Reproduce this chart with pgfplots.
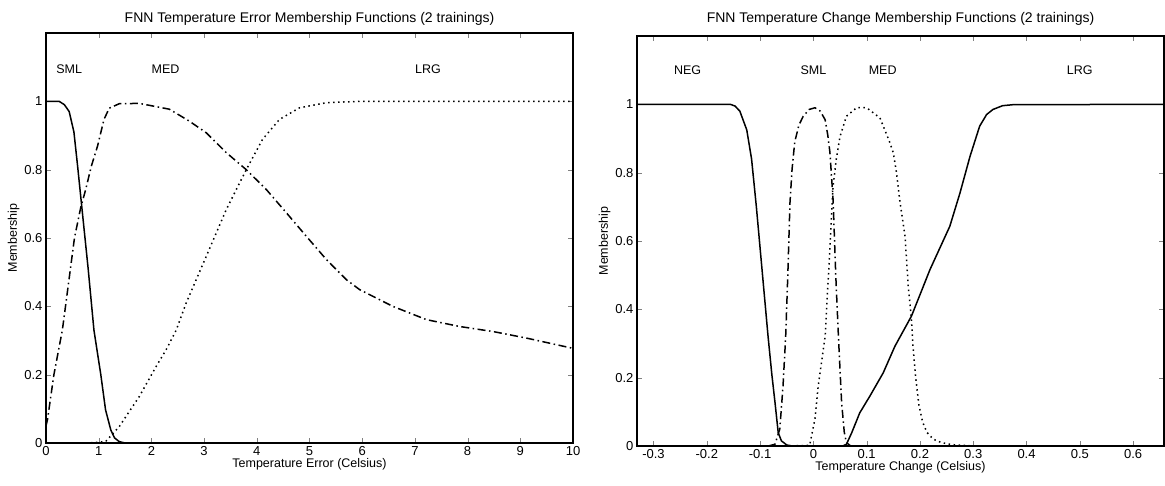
\documentclass[border=0pt]{standalone}
\usepackage{fontspec}
\setmainfont{Liberation Sans}
\usepackage{pgfplots}
\pgfplotsset{compat=1.18}

\pgfplotsset{
  fnn/.style={
    scale only axis, height=410pt,
    ymin=0, ymax=1.2,
    ytick={0,0.2,0.4,0.6,0.8,1}, yticklabels={0,0.2,0.4,0.6,0.8,1},
    tick align=inside, major tick length=5pt,
    ticklabel style={font=\fontsize{13}{15}\selectfont},
    /pgf/number format/assume math mode=true,
    label style={font=\fontsize{12.5}{14}\selectfont},
    title style={font=\fontsize{14}{16}\selectfont},
    ylabel={Membership},
    ylabel style={yshift=-2pt},
    xlabel style={yshift=4pt},
    axis line style={line width=1.2pt},
    every axis plot/.append style={black, line width=1.5pt, line join=round},
  },
  dd/.style={dash pattern=on 8pt off 3.5pt on 1.5pt off 3.5pt},
  dt/.style={dash pattern=on 1.5pt off 3.5pt},
}
\tikzset{lab/.style={font=\fontsize{12.5}{14}\selectfont}}

\begin{document}
\begin{tikzpicture}
\path[use as bounding box] (-46pt,-42pt) rectangle (1119pt,443pt);

% temperature error
\begin{axis}[fnn, width=527pt,
  xmin=0, xmax=10, xtick={0,1,...,10},
  title={FNN Temperature Error Membership Functions (2 trainings)},
  title style={yshift=-2pt},
  xlabel={Temperature Error (Celsius)},
]
\addplot[solid] coordinates {
  (0,1) (0.25,1) (0.35,0.99) (0.44,0.97) (0.53,0.91) (0.6,0.81) (0.66,0.72)
  (0.8,0.51) (0.91,0.33) (1.04,0.2) (1.13,0.097) (1.23,0.038) (1.3,0.015)
  (1.39,0.004) (1.5,0) (10,0)
};
\addplot[dd] coordinates {
  (0,0.05) (0.03,0.07) (0.15,0.2) (0.31,0.33) (0.37,0.4) (0.54,0.6)
  (0.66,0.69) (0.75,0.74) (0.86,0.81) (0.98,0.87) (1.10,0.947) (1.2,0.98)
  (1.39,0.993) (1.77,0.994) (2.34,0.977) (2.72,0.942) (3.04,0.908)
  (3.42,0.85) (3.80,0.80) (4.18,0.742) (4.56,0.674) (4.94,0.605)
  (5.32,0.537) (5.70,0.478) (5.95,0.449) (6.58,0.40) (7.22,0.361)
  (7.85,0.341) (8.49,0.326) (9.12,0.307) (10,0.277)
};
\addplot[dt] coordinates {
  (0,0) (0.8,0) (1.13,0.004) (1.39,0.048) (1.77,0.136) (2.09,0.224)
  (2.28,0.273) (2.47,0.33) (2.66,0.41) (3.04,0.546) (3.42,0.683) (3.80,0.80)
  (4.11,0.889) (4.43,0.947) (4.81,0.981) (5.32,0.996) (5.95,1) (10,1)
};
\node[lab] at (axis cs:0.44,1.094) {SML};
\node[lab] at (axis cs:2.27,1.094) {MED};
\node[lab] at (axis cs:7.25,1.094) {LRG};
\end{axis}

% temperature change
\begin{axis}[fnn, width=527pt, at={(591pt,-3pt)},
  xmin=-0.331, xmax=0.658,
  xtick={-0.3,-0.2,-0.1,0,0.1,0.2,0.3,0.4,0.5,0.6},
  title={FNN Temperature Change Membership Functions (2 trainings)},
  title style={yshift=1pt},
  xlabel={Temperature Change (Celsius)},
]
\addplot[solid] coordinates {
  (-0.331,1) (-0.156,1) (-0.147,0.995) (-0.138,0.98) (-0.125,0.925)
  (-0.116,0.84) (-0.107,0.70) (-0.096,0.51) (-0.085,0.32) (-0.078,0.21)
  (-0.072,0.127) (-0.066,0.039) (-0.06,0.015) (-0.05,0.003) (-0.04,0)
  (0.055,0) (0.062,0.005) (0.072,0.039) (0.087,0.097) (0.106,0.146)
  (0.131,0.214) (0.153,0.292) (0.184,0.38) (0.219,0.517) (0.256,0.643)
  (0.275,0.74) (0.294,0.848) (0.312,0.936) (0.325,0.97) (0.337,0.985)
  (0.355,0.996) (0.375,0.999) (0.658,1)
};
\addplot[dd] coordinates {
  (-0.085,0) (-0.072,0.005) (-0.063,0.05) (-0.057,0.175) (-0.052,0.32)
  (-0.048,0.5) (-0.044,0.71) (-0.04,0.81) (-0.035,0.89) (-0.027,0.94)
  (-0.019,0.965) (-0.008,0.985) (0.003,0.99) (0.013,0.98) (0.022,0.955)
  (0.027,0.91) (0.031,0.86) (0.037,0.72) (0.042,0.5) (0.047,0.32)
  (0.053,0.127) (0.058,0.04) (0.062,0.01) (0.07,0) (0.08,0)
};
\addplot[dt] coordinates {
  (-0.05,0) (-0.007,0.002) (0.003,0.08) (0.009,0.175) (0.022,0.32)
  (0.03,0.55) (0.037,0.76) (0.043,0.84) (0.05,0.906) (0.062,0.965)
  (0.081,0.99) (0.1,0.99) (0.125,0.96) (0.143,0.89) (0.15,0.858)
  (0.156,0.80) (0.162,0.72) (0.172,0.614) (0.178,0.468) (0.184,0.37)
  (0.187,0.29) (0.192,0.2) (0.198,0.12) (0.205,0.07) (0.213,0.04)
  (0.225,0.02) (0.24,0.01) (0.26,0.004) (0.3,0) (0.4,0)
};
\node[lab] at (axis cs:-0.236,1.10) {NEG};
\node[lab] at (axis cs:0.0,1.10) {SML};
\node[lab] at (axis cs:0.13,1.10) {MED};
\node[lab] at (axis cs:0.5,1.10) {LRG};
\end{axis}
\end{tikzpicture}
\end{document}
